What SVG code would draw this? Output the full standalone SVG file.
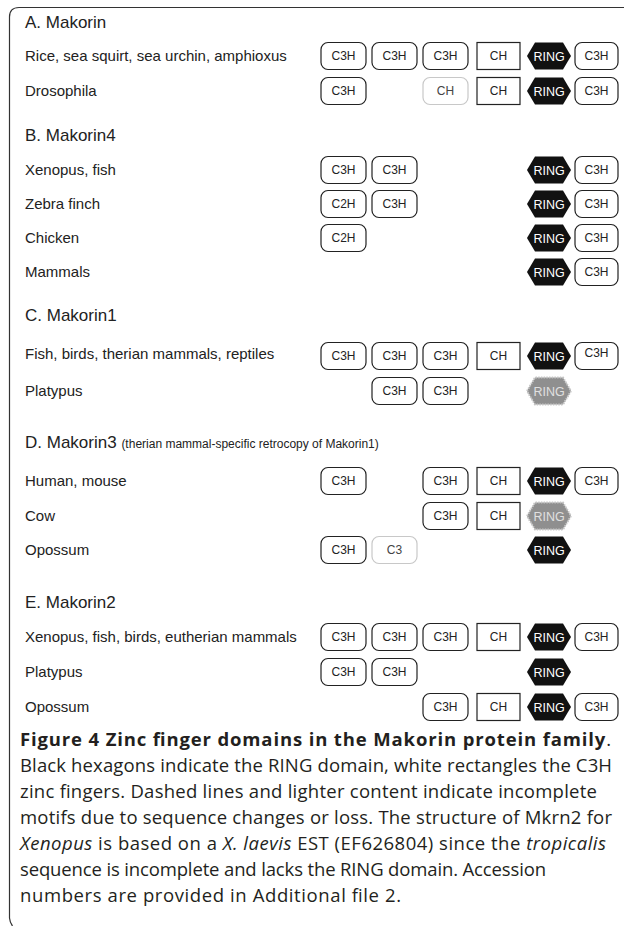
<svg xmlns="http://www.w3.org/2000/svg" xmlns:xlink="http://www.w3.org/1999/xlink" width="624" height="926" viewBox="0 0 624 926">
<style>
.frame{fill:none;stroke:#333;stroke-width:1.2}
.h{font-family:"Liberation Sans",Arial,sans-serif;font-size:17px;fill:#222}
.hs{font-size:12px}
.lb{font-family:"Liberation Sans",Arial,sans-serif;font-size:15px;fill:#222}
.bx{fill:#fff;stroke:#222;stroke-width:1.2}
.lt{fill:#fff;stroke:#c8c8c8;stroke-width:1.2}
.t{font-family:"Liberation Sans",Arial,sans-serif;font-size:12px;fill:#222;text-anchor:middle}
.tl{fill:#444}
.hx{fill:#111}
.ht{font-family:"Liberation Sans",Arial,sans-serif;font-size:12.5px;fill:#fff;text-anchor:middle}
.gh{fill:#8f8f8f;stroke:#c4c4c4;stroke-width:2;stroke-dasharray:1.5 1.2}
.gt{fill:#e0e0e0}
.cap{font-family:"Open Sans","Noto Sans",sans-serif;font-size:18.5px;fill:#231f20}
.b{font-weight:bold}
.i{font-style:italic}
</style>
<defs>
<polygon id="hex" points="0,0 8,-13.5 36,-13.5 44,0 36,13.5 8,13.5"/>
</defs>
<g id="frame"><path class="frame" d="M9.5 918 L9.5 17 Q9.5 7.5 19 7.5 L624 7.5"/><path class="frame" d="M9.5 918 Q10 923 12.5 926"/></g>
<g id="connectors"/>

<g id="headings">
<text class="h" x="25" y="28">A. Makorin</text>
<text class="h" x="25" y="141">B. Makorin4</text>
<text class="h" x="25" y="321">C. Makorin1</text>
<text class="h" x="25" y="448">D. Makorin3 <tspan class="hs">(therian mammal-specific retrocopy of Makorin1)</tspan></text>
<text class="h" x="25" y="608">E. Makorin2</text>
</g>

<g id="labels">
<text class="lb" x="25" y="61">Rice, sea squirt, sea urchin, amphioxus</text>
<text class="lb" x="25" y="96">Drosophila</text>
<text class="lb" x="25" y="175">Xenopus, fish</text>
<text class="lb" x="25" y="209">Zebra finch</text>
<text class="lb" x="25" y="243">Chicken</text>
<text class="lb" x="25" y="277">Mammals</text>
<text class="lb" x="25" y="359">Fish, birds, therian mammals, reptiles</text>
<text class="lb" x="25" y="396">Platypus</text>
<text class="lb" x="25" y="486">Human, mouse</text>
<text class="lb" x="25" y="521">Cow</text>
<text class="lb" x="25" y="555">Opossum</text>
<text class="lb" x="25" y="642">Xenopus, fish, birds, eutherian mammals</text>
<text class="lb" x="25" y="677">Platypus</text>
<text class="lb" x="25" y="712">Opossum</text>
</g>

<!-- A row 1 -->
<g id="a1-c3h1"><rect class="bx" x="321" y="42.5" width="45" height="27" rx="7"/><text class="t" x="343.5" y="60.3">C3H</text></g>
<g id="a1-c3h2"><rect class="bx" x="372" y="42.5" width="45" height="27" rx="7"/><text class="t" x="394.5" y="60.3">C3H</text></g>
<g id="a1-c3h3"><rect class="bx" x="423" y="42.5" width="45" height="27" rx="7"/><text class="t" x="445.5" y="60.3">C3H</text></g>
<g id="a1-ch"><rect class="bx" x="477" y="42.5" width="43" height="27"/><text class="t" x="498.5" y="60.3">CH</text></g>
<g id="a1-ring"><use xlink:href="#hex" class="hx" x="527" y="56"/><text class="ht" x="549" y="60.5">RING</text></g>
<g id="a1-c3h4"><rect class="bx" x="575" y="42.5" width="43" height="27" rx="7"/><text class="t" x="596.5" y="60.3">C3H</text></g>
<!-- A row 2 -->
<g id="a2-c3h1"><rect class="bx" x="321" y="77.5" width="45" height="27" rx="7"/><text class="t" x="343.5" y="95.3">C3H</text></g>
<g id="a2-ch-light"><rect class="lt" x="423" y="77.5" width="45" height="27" rx="7"/><text class="t tl" x="445.5" y="95.3">CH</text></g>
<g id="a2-ch"><rect class="bx" x="477" y="77.5" width="43" height="27"/><text class="t" x="498.5" y="95.3">CH</text></g>
<g id="a2-ring"><use xlink:href="#hex" class="hx" x="527" y="91"/><text class="ht" x="549" y="95.5">RING</text></g>
<g id="a2-c3h2"><rect class="bx" x="575" y="77.5" width="43" height="27" rx="7"/><text class="t" x="596.5" y="95.3">C3H</text></g>

<!-- B -->
<g id="b1-c3h1"><rect class="bx" x="321" y="156.5" width="45" height="27" rx="7"/><text class="t" x="343.5" y="174.3">C3H</text></g>
<g id="b1-c3h2"><rect class="bx" x="372" y="156.5" width="45" height="27" rx="7"/><text class="t" x="394.5" y="174.3">C3H</text></g>
<g id="b1-ring"><use xlink:href="#hex" class="hx" x="527" y="170"/><text class="ht" x="549" y="174.5">RING</text></g>
<g id="b1-c3h3"><rect class="bx" x="575" y="156.5" width="43" height="27" rx="7"/><text class="t" x="596.5" y="174.3">C3H</text></g>

<g id="b2-c2h"><rect class="bx" x="321" y="190.5" width="45" height="27" rx="7"/><text class="t" x="343.5" y="208.3">C2H</text></g>
<g id="b2-c3h1"><rect class="bx" x="372" y="190.5" width="45" height="27" rx="7"/><text class="t" x="394.5" y="208.3">C3H</text></g>
<g id="b2-ring"><use xlink:href="#hex" class="hx" x="527" y="204"/><text class="ht" x="549" y="208.5">RING</text></g>
<g id="b2-c3h2"><rect class="bx" x="575" y="190.5" width="43" height="27" rx="7"/><text class="t" x="596.5" y="208.3">C3H</text></g>

<g id="b3-c2h"><rect class="bx" x="321" y="224.5" width="45" height="27" rx="7"/><text class="t" x="343.5" y="242.3">C2H</text></g>
<g id="b3-ring"><use xlink:href="#hex" class="hx" x="527" y="238"/><text class="ht" x="549" y="242.5">RING</text></g>
<g id="b3-c3h"><rect class="bx" x="575" y="224.5" width="43" height="27" rx="7"/><text class="t" x="596.5" y="242.3">C3H</text></g>

<g id="b4-ring"><use xlink:href="#hex" class="hx" x="527" y="272"/><text class="ht" x="549" y="276.5">RING</text></g>
<g id="b4-c3h"><rect class="bx" x="575" y="258.5" width="43" height="27" rx="7"/><text class="t" x="596.5" y="276.3">C3H</text></g>

<!-- C -->
<g id="c1-c3h1"><rect class="bx" x="321" y="342.5" width="45" height="27" rx="7"/><text class="t" x="343.5" y="360.3">C3H</text></g>
<g id="c1-c3h2"><rect class="bx" x="372" y="342.5" width="45" height="27" rx="7"/><text class="t" x="394.5" y="360.3">C3H</text></g>
<g id="c1-c3h3"><rect class="bx" x="423" y="342.5" width="45" height="27" rx="7"/><text class="t" x="445.5" y="360.3">C3H</text></g>
<g id="c1-ch"><rect class="bx" x="477" y="342.5" width="43" height="27"/><text class="t" x="498.5" y="360.3">CH</text></g>
<g id="c1-ring"><use xlink:href="#hex" class="hx" x="527" y="356"/><text class="ht" x="549" y="360.5">RING</text></g>
<g id="c1-c3h4"><rect class="bx" x="575" y="342.5" width="43" height="27" rx="7"/><text class="t" x="596.5" y="357">C3H</text></g>

<g id="c2-c3h1"><rect class="bx" x="372" y="377.5" width="45" height="27" rx="7"/><text class="t" x="394.5" y="395.3">C3H</text></g>
<g id="c2-c3h2"><rect class="bx" x="423" y="377.5" width="45" height="27" rx="7"/><text class="t" x="445.5" y="395.3">C3H</text></g>
<g id="c2-ring-partial"><use xlink:href="#hex" class="gh" x="527" y="391"/><text class="ht gt" x="549" y="395.5">RING</text></g>

<!-- D -->
<g id="d1-c3h1"><rect class="bx" x="321" y="467.5" width="45" height="27" rx="7"/><text class="t" x="343.5" y="485.3">C3H</text></g>
<g id="d1-c3h2"><rect class="bx" x="423" y="467.5" width="45" height="27" rx="7"/><text class="t" x="445.5" y="485.3">C3H</text></g>
<g id="d1-ch"><rect class="bx" x="477" y="467.5" width="43" height="27"/><text class="t" x="498.5" y="485.3">CH</text></g>
<g id="d1-ring"><use xlink:href="#hex" class="hx" x="527" y="481"/><text class="ht" x="549" y="485.5">RING</text></g>
<g id="d1-c3h3"><rect class="bx" x="575" y="467.5" width="43" height="27" rx="7"/><text class="t" x="596.5" y="485.3">C3H</text></g>

<g id="d2-c3h"><rect class="bx" x="423" y="502.5" width="45" height="27" rx="7"/><text class="t" x="445.5" y="520.3">C3H</text></g>
<g id="d2-ch"><rect class="bx" x="477" y="502.5" width="43" height="27"/><text class="t" x="498.5" y="520.3">CH</text></g>
<g id="d2-ring-partial"><use xlink:href="#hex" class="gh" x="527" y="516"/><text class="ht gt" x="549" y="520.5">RING</text></g>

<g id="d3-c3h"><rect class="bx" x="321" y="536.5" width="45" height="27" rx="7"/><text class="t" x="343.5" y="554.3">C3H</text></g>
<g id="d3-c3-light"><rect class="lt" x="372" y="536.5" width="45" height="27" rx="7"/><text class="t tl" x="394.5" y="554.3">C3</text></g>
<g id="d3-ring"><use xlink:href="#hex" class="hx" x="527" y="550"/><text class="ht" x="549" y="554.5">RING</text></g>

<!-- E -->
<g id="e1-c3h1"><rect class="bx" x="321" y="623.5" width="45" height="27" rx="7"/><text class="t" x="343.5" y="641.3">C3H</text></g>
<g id="e1-c3h2"><rect class="bx" x="372" y="623.5" width="45" height="27" rx="7"/><text class="t" x="394.5" y="641.3">C3H</text></g>
<g id="e1-c3h3"><rect class="bx" x="423" y="623.5" width="45" height="27" rx="7"/><text class="t" x="445.5" y="641.3">C3H</text></g>
<g id="e1-ch"><rect class="bx" x="477" y="623.5" width="43" height="27"/><text class="t" x="498.5" y="641.3">CH</text></g>
<g id="e1-ring"><use xlink:href="#hex" class="hx" x="527" y="637"/><text class="ht" x="549" y="641.5">RING</text></g>
<g id="e1-c3h4"><rect class="bx" x="575" y="623.5" width="43" height="27" rx="7"/><text class="t" x="596.5" y="641.3">C3H</text></g>

<g id="e2-c3h1"><rect class="bx" x="321" y="658.5" width="45" height="27" rx="7"/><text class="t" x="343.5" y="676.3">C3H</text></g>
<g id="e2-c3h2"><rect class="bx" x="372" y="658.5" width="45" height="27" rx="7"/><text class="t" x="394.5" y="676.3">C3H</text></g>
<g id="e2-ring"><use xlink:href="#hex" class="hx" x="527" y="672"/><text class="ht" x="549" y="676.5">RING</text></g>

<g id="e3-c3h1"><rect class="bx" x="423" y="693.5" width="45" height="27" rx="7"/><text class="t" x="445.5" y="711.3">C3H</text></g>
<g id="e3-ch"><rect class="bx" x="477" y="693.5" width="43" height="27"/><text class="t" x="498.5" y="711.3">CH</text></g>
<g id="e3-ring"><use xlink:href="#hex" class="hx" x="527" y="707"/><text class="ht" x="549" y="711.5">RING</text></g>
<g id="e3-c3h2"><rect class="bx" x="575" y="693.5" width="43" height="27" rx="7"/><text class="t" x="596.5" y="711.3">C3H</text></g>

<g id="caption">
<text class="cap" x="20" y="746" textLength="591" lengthAdjust="spacing"><tspan class="b">Figure 4 Zinc finger domains in the Makorin protein family</tspan>.</text>
<text class="cap" x="20" y="772" textLength="592" lengthAdjust="spacing">Black hexagons indicate the RING domain, white rectangles the C3H</text>
<text class="cap" x="20" y="798" textLength="577" lengthAdjust="spacing">zinc fingers. Dashed lines and lighter content indicate incomplete</text>
<text class="cap" x="20" y="824" textLength="592" lengthAdjust="spacing">motifs due to sequence changes or loss. The structure of Mkrn2 for</text>
<text class="cap" x="20" y="850" textLength="586" lengthAdjust="spacing"><tspan class="i">Xenopus</tspan> is based on a <tspan class="i">X. laevis</tspan> EST (EF626804) since the <tspan class="i">tropicalis</tspan></text>
<text class="cap" x="20" y="876" textLength="526" lengthAdjust="spacing">sequence is incomplete and lacks the RING domain. Accession</text>
<text class="cap" x="20" y="902" textLength="381" lengthAdjust="spacing">numbers are provided in Additional file 2.</text>
</g>
</svg>
